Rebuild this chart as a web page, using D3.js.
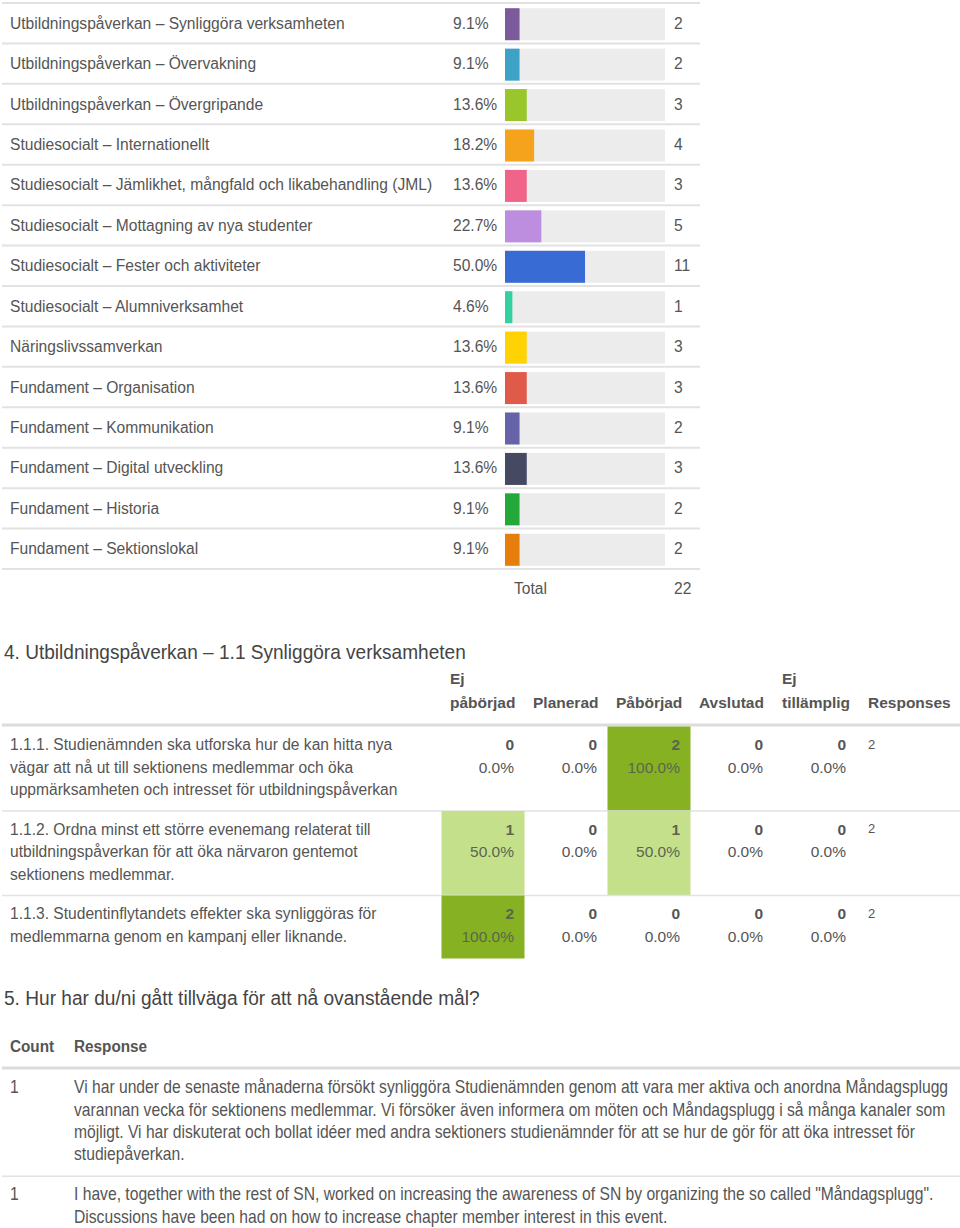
<!DOCTYPE html>
<html>
<head>
<meta charset="utf-8">
<script src="https://cdn.jsdelivr.net/npm/d3@7"></script>
<style>
  html, body { margin: 0; padding: 0; background: #fff; }
  svg { display: block; font-family: "Liberation Sans", Arial, Helvetica, sans-serif; }
</style>
</head>
<body>
<div id="chart"></div>
<script>
// ---------- DATA ----------
const categories = [
  "Utbildningspåverkan – Synliggöra verksamheten",
  "Utbildningspåverkan – Övervakning",
  "Utbildningspåverkan – Övergripande",
  "Studiesocialt – Internationellt",
  "Studiesocialt – Jämlikhet, mångfald och likabehandling (JML)",
  "Studiesocialt – Mottagning av nya studenter",
  "Studiesocialt – Fester och aktiviteter",
  "Studiesocialt – Alumniverksamhet",
  "Näringslivssamverkan",
  "Fundament – Organisation",
  "Fundament – Kommunikation",
  "Fundament – Digital utveckling",
  "Fundament – Historia",
  "Fundament – Sektionslokal"
];
const percents = [9.1, 9.1, 13.6, 18.2, 13.6, 22.7, 50.0, 4.6, 13.6, 13.6, 9.1, 13.6, 9.1, 9.1];
const counts = [2, 2, 3, 4, 3, 5, 11, 1, 3, 3, 2, 3, 2, 2];
const totalCount = 22;
const barColors = ["#7b5b9c", "#3ea2c7", "#99c72b", "#f5a31c", "#f0648a", "#bd8ee0", "#396bd4",
                   "#35d0a0", "#ffd203", "#e05a4a", "#6663a8", "#454a62", "#23a83a", "#e67e0c"];

const q4Title = "4. Utbildningspåverkan – 1.1 Synliggöra verksamheten";
const matrixColumns = [["Ej", "påbörjad"], ["Planerad"], ["Påbörjad"], ["Avslutad"], ["Ej", "tillämplig"]];
const matrixResponsesLabel = "Responses";
const matrixRows = [
  ["1.1.1. Studienämnden ska utforska hur de kan hitta nya",
   "vägar att nå ut till sektionens medlemmar och öka",
   "uppmärksamheten och intresset för utbildningspåverkan"],
  ["1.1.2. Ordna minst ett större evenemang relaterat till",
   "utbildningspåverkan för att öka närvaron gentemot",
   "sektionens medlemmar."],
  ["1.1.3. Studentinflytandets effekter ska synliggöras för",
   "medlemmarna genom en kampanj eller liknande."]
];
const matrixCounts = [[0, 0, 2, 0, 0], [1, 0, 1, 0, 0], [2, 0, 0, 0, 0]];
const matrixPercents = [[0, 0, 100, 0, 0], [50, 0, 50, 0, 0], [100, 0, 0, 0, 0]];
const matrixResponses = [2, 2, 2];

const q5Title = "5. Hur har du/ni gått tillväga för att nå ovanstående mål?";
const q5Headers = ["Count", "Response"];
const q5Counts = [1, 1];
const q5Responses = [
  ["Vi har under de senaste månaderna försökt synliggöra Studienämnden genom att vara mer aktiva och anordna Måndagsplugg",
   "varannan vecka för sektionens medlemmar. Vi försöker även informera om möten och Måndagsplugg i så många kanaler som",
   "möjligt. Vi har diskuterat och bollat idéer med andra sektioners studienämnder för att se hur de gör för att öka intresset för",
   "studiepåverkan."],
  ["I have, together with the rest of SN, worked on increasing the awareness of SN by organizing the so called \"Måndagsplugg\".",
   "Discussions have been had on how to increase chapter member interest in this event."]
];

// ---------- DRAW ----------
const W = 960, H = 1228;
const textColor = "#555";
const lineColor = "#e2e2e2";
const svg = d3.select("#chart").append("svg").attr("width", W).attr("height", H);
svg.append("rect").attr("width", W).attr("height", H).attr("fill", "#fff");

// helper: horizontally condensed text
function condText(sel, x0, y0, size, sx, t) {
  return sel.append("text").attr("transform", `translate(${x0},${y0}) scale(${sx},1)`)
    .attr("dy", "0.35em").attr("font-size", size).attr("fill", textColor).text(t);
}

// ---- Bar table ----
const y = d3.scaleBand().domain(d3.range(categories.length)).range([3, 569]).padding(0);
const x = d3.scaleLinear().domain([0, 100]).range([505, 665]);
const barH = 32;
const fs = 15.6;

const barTable = svg.append("g");
barTable.append("line").attr("x1", 2).attr("x2", 700).attr("y1", 3).attr("y2", 3)
  .attr("stroke", lineColor).attr("stroke-width", 2);

const rows = barTable.selectAll("g.row").data(categories).join("g").attr("class", "row")
  .attr("transform", (d, i) => `translate(0,${y(i)})`);
const bw = y.bandwidth();
rows.append("line").attr("x1", 2).attr("x2", 700).attr("y1", bw).attr("y2", bw)
  .attr("stroke", lineColor).attr("stroke-width", 2);
rows.append("text").attr("x", 10).attr("y", bw / 2).attr("dy", "0.35em")
  .attr("font-size", fs).attr("fill", textColor).text(d => d);
rows.append("text").attr("x", 453).attr("y", bw / 2).attr("dy", "0.35em")
  .attr("font-size", fs).attr("fill", textColor).text((d, i) => percents[i].toFixed(1) + "%");
rows.append("rect").attr("x", x(0)).attr("y", bw / 2 - barH / 2 + 1)
  .attr("width", x(100) - x(0)).attr("height", barH).attr("fill", "#ececec");
rows.append("rect").attr("x", x(0)).attr("y", bw / 2 - barH / 2 + 1)
  .attr("width", (d, i) => x(percents[i]) - x(0)).attr("height", barH)
  .attr("fill", (d, i) => barColors[i]);
rows.append("text").attr("x", 674).attr("y", bw / 2).attr("dy", "0.35em")
  .attr("font-size", fs).attr("fill", textColor).text((d, i) => counts[i]);

barTable.append("text").attr("x", 514).attr("y", 589).attr("dy", "0.35em")
  .attr("font-size", fs).attr("fill", textColor).text("Total");
barTable.append("text").attr("x", 674).attr("y", 589).attr("dy", "0.35em")
  .attr("font-size", fs).attr("fill", textColor).text(totalCount);

// ---- Matrix ----
condText(svg, 4, 652, 20.5, 0.93, q4Title).attr("fill", "#444");

const colX = d3.scaleBand().domain(d3.range(matrixColumns.length)).range([440, 855]);
const header = svg.append("g");
matrixColumns.forEach((lines, c) => {
  lines.forEach((t, k) => {
    const ly = 703 - (lines.length - 1 - k) * 24;
    header.append("text").attr("x", colX(c) + 10).attr("y", ly).attr("dy", "0.35em")
      .attr("font-size", 15.5).attr("font-weight", "bold").attr("fill", textColor).text(t);
  });
});
header.append("text").attr("x", 868).attr("y", 703).attr("dy", "0.35em")
  .attr("font-size", 15.5).attr("font-weight", "bold").attr("fill", textColor).text(matrixResponsesLabel);
svg.append("line").attr("x1", 2).attr("x2", 960).attr("y1", 725).attr("y2", 725)
  .attr("stroke", "#dcdcdc").attr("stroke-width", 3);

const heat = d3.scaleLinear().domain([50, 100]).range(["#c5e08b", "#85b122"]);
const lineStep = 22.5;
let rowTop = 726.5;
matrixRows.forEach((lines, r) => {
  const h = 15 + lines.length * 22.5 + (lines.length === 3 ? 2 : 3);
  const g = svg.append("g").attr("transform", `translate(0,${rowTop})`);
  matrixCounts[r].forEach((v, c) => {
    if (v > 0) {
      g.append("rect").attr("x", colX(c) + 1.5).attr("y", 0)
        .attr("width", colX.bandwidth()).attr("height", h).attr("fill", heat(matrixPercents[r][c]));
    }
    g.append("text").attr("x", colX(c) + colX.bandwidth() - 9).attr("y", 18.5).attr("dy", "0.35em")
      .attr("text-anchor", "end").attr("font-size", 15.5).attr("font-weight", "bold")
      .attr("fill", v > 0 ? "#5b6650" : textColor).text(v);
    g.append("text").attr("x", colX(c) + colX.bandwidth() - 9).attr("y", 18.5 + lineStep).attr("dy", "0.35em")
      .attr("text-anchor", "end").attr("font-size", 15.5)
      .attr("fill", v > 0 ? "#5b6650" : textColor).text(matrixPercents[r][c].toFixed(1) + "%");
  });
  g.append("text").attr("x", 868).attr("y", 17.5).attr("dy", "0.35em")
    .attr("font-size", 13).attr("fill", textColor).text(matrixResponses[r]);
  lines.forEach((t, k) => {
    g.append("text").attr("x", 10).attr("y", 18.5 + k * lineStep).attr("dy", "0.35em")
      .attr("font-size", 15.6).attr("fill", textColor).text(t);
  });
  if (r < matrixRows.length - 1) {
    g.append("line").attr("x1", 2).attr("x2", 960).attr("y1", h).attr("y2", h)
      .attr("stroke", lineColor).attr("stroke-width", 1.5);
  }
  rowTop += h;
});

// ---- Open responses ----
const q5 = svg.append("g");
condText(q5, 4, 998, 21, 0.91, q5Title).attr("fill", "#444");
condText(q5, 10, 1046, 17, 0.9, q5Headers[0]).attr("font-weight", "bold");
condText(q5, 74, 1046, 17, 0.9, q5Headers[1]).attr("font-weight", "bold");
q5.append("line").attr("x1", 2).attr("x2", 960).attr("y1", 1068).attr("y2", 1068)
  .attr("stroke", "#dcdcdc").attr("stroke-width", 3);

let ry = 1087;
q5Responses.forEach((lines, r) => {
  condText(q5, 10, ry, 17.5, 0.895, q5Counts[r]);
  lines.forEach((t, k) => {
    condText(q5, 74, ry + k * 22.4, 17.5, 0.895, t);
  });
  const bottom = ry + (lines.length - 1) * 22.4 + 22;
  if (r < q5Responses.length - 1) {
    q5.append("line").attr("x1", 2).attr("x2", 960).attr("y1", bottom).attr("y2", bottom)
      .attr("stroke", lineColor).attr("stroke-width", 1.5);
  }
  ry = bottom + 18;
});
</script>
</body>
</html>
